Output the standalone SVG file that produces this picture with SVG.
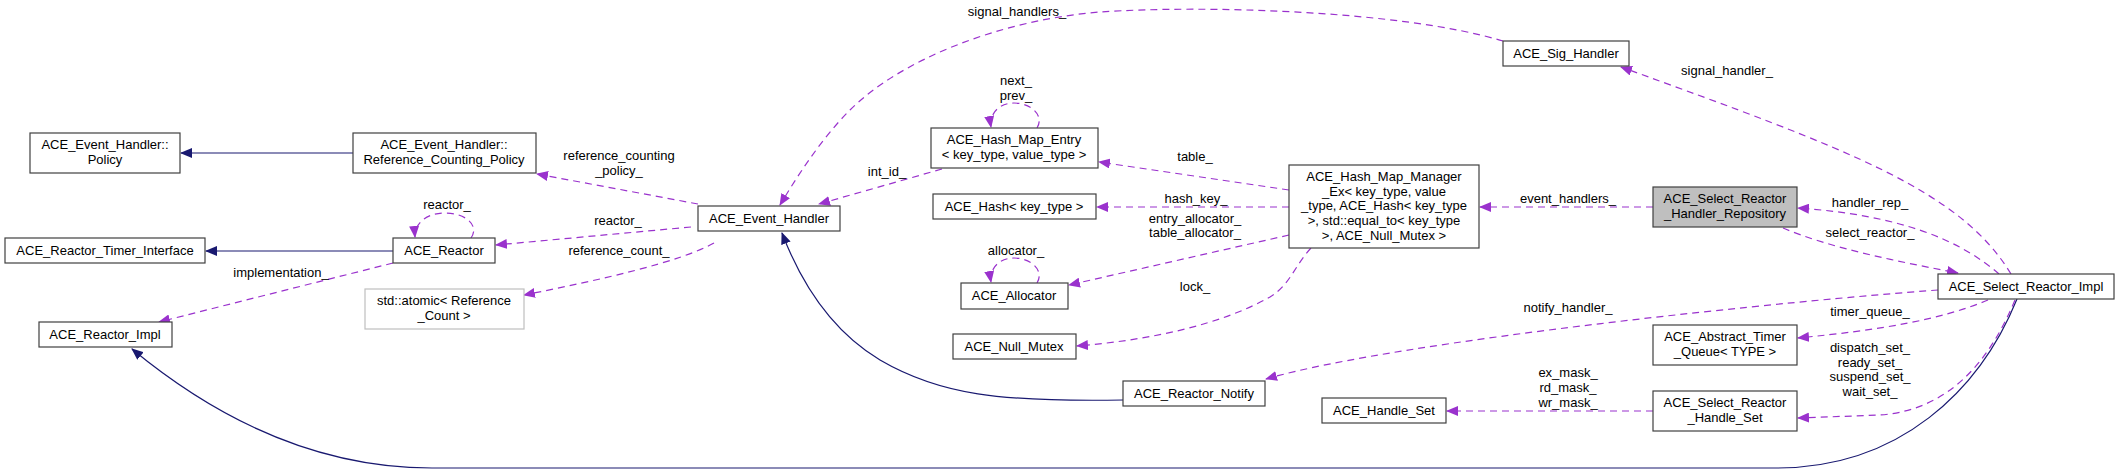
<svg xmlns="http://www.w3.org/2000/svg" width="2124" height="475" viewBox="0 0 2124 475">
<style>
text{font-family:"Liberation Sans",Arial,sans-serif;font-size:13px;fill:#000;text-anchor:middle}
.n rect{fill:#fff;stroke:#404040;stroke-width:1.2}
.d{fill:none;stroke:#9a32cd;stroke-width:1.2;stroke-dasharray:7,5;marker-end:url(#ap)}
.s{fill:none;stroke:#191970;stroke-width:1.2;marker-end:url(#as)}
</style>
<defs>
<marker id="ap" markerWidth="12" markerHeight="10" refX="11" refY="5" orient="auto" markerUnits="userSpaceOnUse"><path d="M0,0 L12,5 L0,10 z" fill="#9a32cd"/></marker>
<marker id="as" markerWidth="12" markerHeight="10" refX="11" refY="5" orient="auto" markerUnits="userSpaceOnUse"><path d="M0,0 L12,5 L0,10 z" fill="#191970"/></marker>
</defs>
<rect width="2124" height="475" fill="#fff"/>
<g id="connectors">
<path class="s" d="M353,153 L181,153"/>
<path class="s" d="M393,251 L206,251"/>
<path class="s" d="M2017,299 C1980,390 1900,468 1776,468 L432,468 C330,468 230,430 132,349"/>
<path class="s" d="M1123,400 C1000,402 940,395 880,360 C830,330 800,280 782,233"/>
<path class="d" d="M698,204 L537,174"/>
<path class="d" d="M691,227 L496,245"/>
<path class="d" d="M714,243 C680,262 600,280 524,295"/>
<path class="d" d="M471,238 C480,225 465,213 445,213 C425,213 414,225 415,237"/>
<path class="d" d="M393,263 L159,322"/>
<path class="d" d="M942,169 L819,204"/>
<path class="d" d="M1037,128 C1045,115 1030,103 1014,103 C998,103 989,115 991,127"/>
<path class="d" d="M1289,190 L1099,162"/>
<path class="d" d="M1289,207 L1097,207"/>
<path class="d" d="M1289,235 L1069,285"/>
<path class="d" d="M1037,283 C1045,270 1030,258 1014,258 C998,258 989,270 991,282"/>
<path class="d" d="M1311,248 C1295,265 1290,285 1270,297 C1220,325 1150,340 1077,346"/>
<path class="d" d="M1503,41 C1400,10 1200,5 1100,12 C1000,20 900,60 850,110 C820,140 795,180 780,205"/>
<path class="d" d="M1653,207 L1480,207"/>
<path class="d" d="M1999,274 C1960,240 1900,215 1798,208"/>
<path class="d" d="M1783,228 C1830,248 1900,262 1958,273"/>
<path class="d" d="M2011,274 C1960,190 1850,150 1621,67"/>
<path class="d" d="M1938,290 C1800,300 1400,340 1266,379"/>
<path class="d" d="M1988,300 C1940,320 1880,330 1798,338"/>
<path class="d" d="M2015,300 C1990,360 1950,410 1880,415 L1798,418"/>
<path class="d" d="M1653,411 L1447,411"/>
<text x="619" y="160">reference_counting</text><text x="619" y="175">_policy_</text>
<text x="447" y="209">reactor_</text>
<text x="618" y="225">reactor_</text>
<text x="619" y="255">reference_count_</text>
<text x="281" y="277">implementation_</text>
<text x="1017" y="16">signal_handlers_</text>
<text x="1016" y="85">next_</text><text x="1016" y="100">prev_</text>
<text x="887" y="176">int_id_</text>
<text x="1195" y="161">table_</text>
<text x="1196" y="203">hash_key_</text>
<text x="1195" y="223">entry_allocator_</text><text x="1195" y="237">table_allocator_</text>
<text x="1016" y="255">allocator_</text>
<text x="1195" y="291">lock_</text>
<text x="1727" y="75">signal_handler_</text>
<text x="1568" y="203">event_handlers_</text>
<text x="1870" y="207">handler_rep_</text>
<text x="1870" y="237">select_reactor_</text>
<text x="1568" y="312">notify_handler_</text>
<text x="1870" y="316">timer_queue_</text>
<text x="1870" y="352">dispatch_set_</text><text x="1870" y="367">ready_set_</text><text x="1870" y="381">suspend_set_</text><text x="1870" y="396">wait_set_</text>
<text x="1568" y="377">ex_mask_</text><text x="1568" y="392">rd_mask_</text><text x="1568" y="407">wr_mask_</text>
</g>
<g id="n_policy" class="n"><rect x="30" y="133" width="150" height="40"/><text x="105" y="149">ACE_Event_Handler::</text><text x="105" y="164">Policy</text></g>
<g id="n_refpolicy" class="n"><rect x="353" y="133" width="183" height="40"/><text x="444" y="149">ACE_Event_Handler::</text><text x="444" y="164">Reference_Counting_Policy</text></g>
<g id="n_timer_if" class="n"><rect x="5" y="238" width="200" height="25"/><text x="105" y="255">ACE_Reactor_Timer_Interface</text></g>
<g id="n_reactor" class="n"><rect x="393" y="238" width="102" height="25"/><text x="444" y="255">ACE_Reactor</text></g>
<g id="n_reactor_impl" class="n"><rect x="39" y="322" width="133" height="25"/><text x="105" y="339">ACE_Reactor_Impl</text></g>
<g id="n_atomic" class="n"><rect x="365" y="289" width="159" height="40" style="stroke:#bfbfbf"/><text x="444" y="305">std::atomic&lt; Reference</text><text x="444" y="320">_Count &gt;</text></g>
<g id="n_event_handler" class="n"><rect x="698" y="206" width="142" height="25"/><text x="769" y="223">ACE_Event_Handler</text></g>
<g id="n_hash_entry" class="n"><rect x="931" y="128" width="167" height="40"/><text x="1014" y="144">ACE_Hash_Map_Entry</text><text x="1014" y="159">&lt; key_type, value_type &gt;</text></g>
<g id="n_hash" class="n"><rect x="933" y="194" width="163" height="25"/><text x="1014" y="211">ACE_Hash&lt; key_type &gt;</text></g>
<g id="n_allocator" class="n"><rect x="961" y="283" width="107" height="26"/><text x="1014" y="300">ACE_Allocator</text></g>
<g id="n_null_mutex" class="n"><rect x="953" y="334" width="123" height="25"/><text x="1014" y="351">ACE_Null_Mutex</text></g>
<g id="n_notify" class="n"><rect x="1123" y="381" width="142" height="25"/><text x="1194" y="398">ACE_Reactor_Notify</text></g>
<g id="n_manager" class="n"><rect x="1289" y="165" width="190" height="83"/><text x="1384" y="181">ACE_Hash_Map_Manager</text><text x="1384" y="196">_Ex&lt; key_type, value</text><text x="1384" y="210">_type, ACE_Hash&lt; key_type</text><text x="1384" y="225">&gt;, std::equal_to&lt; key_type</text><text x="1384" y="240">&gt;, ACE_Null_Mutex &gt;</text></g>
<g id="n_handle_set" class="n"><rect x="1322" y="398" width="124" height="25"/><text x="1384" y="415">ACE_Handle_Set</text></g>
<g id="n_sig_handler" class="n"><rect x="1503" y="41" width="126" height="25"/><text x="1566" y="58">ACE_Sig_Handler</text></g>
<g id="n_repo" class="n"><rect x="1653" y="187" width="144" height="40" style="fill:#bfbfbf"/><text x="1725" y="203">ACE_Select_Reactor</text><text x="1725" y="218">_Handler_Repository</text></g>
<g id="n_sri" class="n"><rect x="1938" y="274" width="176" height="25"/><text x="2026" y="291">ACE_Select_Reactor_Impl</text></g>
<g id="n_timer_queue" class="n"><rect x="1653" y="325" width="144" height="40"/><text x="1725" y="341">ACE_Abstract_Timer</text><text x="1725" y="356">_Queue&lt; TYPE &gt;</text></g>
<g id="n_sel_handle_set" class="n"><rect x="1653" y="391" width="144" height="40"/><text x="1725" y="407">ACE_Select_Reactor</text><text x="1725" y="422">_Handle_Set</text></g>
</svg>
